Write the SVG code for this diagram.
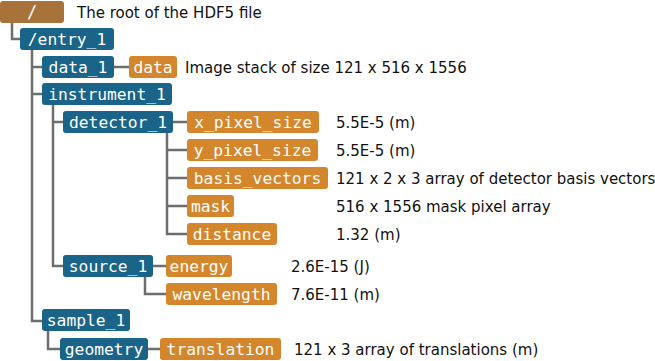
<svg xmlns="http://www.w3.org/2000/svg" width="655" height="361" viewBox="0 0 655 361">
<style>
.c{fill:none;stroke:#6e6e6e;stroke-width:2.5}
.g{fill:#1b6489}
.d{fill:#d4862c}
.r{fill:#a8733a}
.l{font-family:"DejaVu Sans Mono","Liberation Mono",monospace;font-size:16.3px;fill:#ffffff;text-anchor:middle}
.t{font-family:"DejaVu Sans","Liberation Sans",sans-serif;font-size:15px;fill:#111111}
</style>
<rect width="655" height="361" fill="#ffffff"/>
<g id="connectors">
<path class="c" d="M12 23V39H20"/>
<path class="c" d="M32 50V321H42M32 67H42M32 94H42"/>
<path class="c" d="M114 67H129"/>
<path class="c" d="M53 105V266H63M53 122H63"/>
<path class="c" d="M173 122H187M167 133V234H187M167 150H187M167 178H187M167 206H187"/>
<path class="c" d="M153 266H166M145 277V294H166"/>
<path class="c" d="M48 331V349H60M148 349H160"/>
</g>
<g id="root"><rect class="r" x="0" y="1" width="64" height="22" rx="3"/><text class="l" x="32" y="17.5" style="font-size:17px">/</text></g>
<g id="entry_1"><rect class="g" x="20" y="28" width="94" height="22" rx="3"/><text class="l" x="67" y="44.5">/entry_1</text></g>
<g id="data_1"><rect class="g" x="42" y="56" width="72" height="22" rx="3"/><text class="l" x="78" y="72.5">data_1</text></g>
<g id="data"><rect class="d" x="129" y="56" width="48" height="22" rx="3"/><text class="l" x="153" y="72.5">data</text></g>
<g id="instrument_1"><rect class="g" x="42" y="83" width="130" height="22" rx="3"/><text class="l" x="107" y="99.5">instrument_1</text></g>
<g id="detector_1"><rect class="g" x="63" y="111" width="110" height="22" rx="3"/><text class="l" x="118" y="127.5">detector_1</text></g>
<g id="x_pixel_size"><rect class="d" x="187" y="111" width="132" height="22" rx="3"/><text class="l" x="253" y="127.5">x_pixel_size</text></g>
<g id="y_pixel_size"><rect class="d" x="187" y="139" width="131" height="22" rx="3"/><text class="l" x="252.5" y="155.5">y_pixel_size</text></g>
<g id="basis_vectors"><rect class="d" x="187" y="167" width="141" height="22" rx="3"/><text class="l" x="257.5" y="183.5">basis_vectors</text></g>
<g id="mask"><rect class="d" x="187" y="195" width="47" height="22" rx="3"/><text class="l" x="210.5" y="211.5">mask</text></g>
<g id="distance"><rect class="d" x="187" y="223" width="90" height="22" rx="3"/><text class="l" x="232" y="239.5">distance</text></g>
<g id="source_1"><rect class="g" x="63" y="255" width="90" height="22" rx="3"/><text class="l" x="108" y="271.5">source_1</text></g>
<g id="energy"><rect class="d" x="166" y="255" width="66" height="22" rx="3"/><text class="l" x="199" y="271.5">energy</text></g>
<g id="wavelength"><rect class="d" x="166" y="283" width="111" height="22" rx="3"/><text class="l" x="221.5" y="299.5">wavelength</text></g>
<g id="sample_1"><rect class="g" x="42" y="309" width="88" height="22" rx="3"/><text class="l" x="86" y="325.5">sample_1</text></g>
<g id="geometry"><rect class="g" x="60" y="338" width="88" height="22" rx="3"/><text class="l" x="104" y="354.5">geometry</text></g>
<g id="translation"><rect class="d" x="160" y="338" width="121" height="22" rx="3"/><text class="l" x="220.5" y="354.5">translation</text></g>
<g id="descriptions">
<text class="t" x="77" y="17.5">The root of the HDF5 file</text>
<text class="t" x="185" y="72.5">Image stack of size 121 x 516 x 1556</text>
<text class="t" x="336" y="127.5">5.5E-5 (m)</text>
<text class="t" x="336" y="155.5">5.5E-5 (m)</text>
<text class="t" x="336" y="183.5">121 x 2 x 3 array of detector basis vectors</text>
<text class="t" x="336" y="211.5">516 x 1556 mask pixel array</text>
<text class="t" x="336" y="239.5">1.32 (m)</text>
<text class="t" x="291" y="271.5">2.6E-15 (J)</text>
<text class="t" x="291" y="299.5">7.6E-11 (m)</text>
<text class="t" x="294" y="354.5">121 x 3 array of translations (m)</text>
</g>
</svg>
